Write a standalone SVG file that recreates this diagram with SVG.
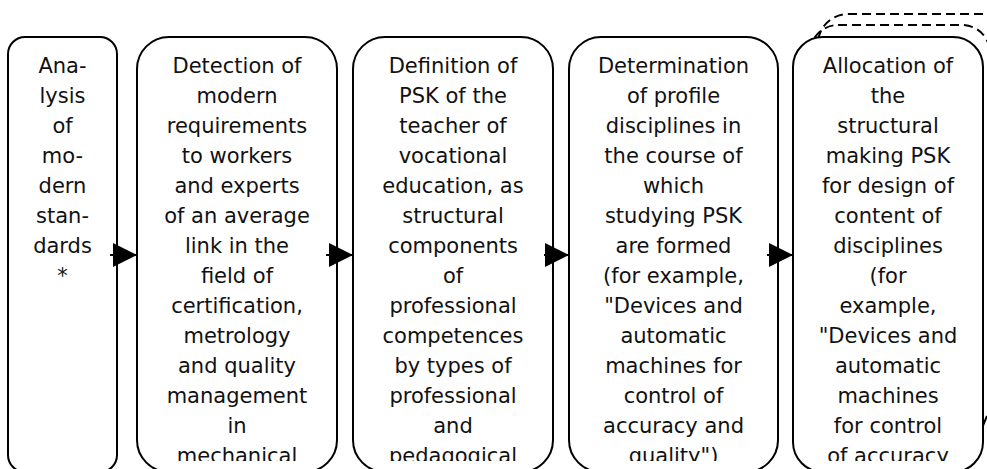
<svg xmlns="http://www.w3.org/2000/svg" width="987" height="469" viewBox="0 0 987 469">
<style>
.box{fill:#fff;stroke:#000;stroke-width:2}
.dash{fill:none;stroke:#000;stroke-width:2;stroke-dasharray:9 5}
.t{font-family:"DejaVu Sans",sans-serif;font-size:21px;fill:#111;text-anchor:middle}
.c{stroke:#000;stroke-width:2;fill:none}
</style>
<defs>
<clipPath id="clip"><rect x="0" y="0" width="987" height="461"/></clipPath>
<marker id="ah" markerUnits="userSpaceOnUse" markerWidth="24" markerHeight="24" viewBox="0 0 24 24" refX="24" refY="12" orient="auto"><path d="M0 0L24 12L0 24Z" fill="#000"/></marker>
</defs>
<rect width="987" height="469" fill="#fff"/>
<g id="back-stack">
<rect class="dash" x="818" y="14" width="200" height="470" rx="30"/>
<rect class="dash" x="810" y="25" width="180" height="460" rx="28"/>
<path class="c" d="M982 428L987 416"/>
</g>
<g id="n1">
<rect class="box" x="8" y="37" width="109" height="435" rx="17"/>
<g class="t" clip-path="url(#clip)">
<text x="62.5" y="73">Ana-</text><text x="62.5" y="103">lysis</text><text x="62.5" y="133">of</text><text x="62.5" y="163">mo-</text><text x="62.5" y="193">dern</text><text x="62.5" y="223">stan-</text><text x="62.5" y="253">dards</text><text x="62.5" y="283">*</text>
</g>
</g>
<g id="n2">
<rect class="box" x="137" y="37" width="200" height="435" rx="32"/>
<g class="t" clip-path="url(#clip)">
<text x="237" y="73">Detection of</text><text x="237" y="103">modern</text><text x="237" y="133">requirements</text><text x="237" y="163">to workers</text><text x="237" y="193">and experts</text><text x="237" y="223">of an average</text><text x="237" y="253">link in the</text><text x="237" y="283">field of</text><text x="237" y="313">certification,</text><text x="237" y="343">metrology</text><text x="237" y="373">and quality</text><text x="237" y="403">management</text><text x="237" y="433">in</text><text x="237" y="463">mechanical</text>
</g>
</g>
<g id="n3">
<rect class="box" x="353" y="37" width="200" height="435" rx="32"/>
<g class="t" clip-path="url(#clip)">
<text x="453" y="73">Definition of</text><text x="453" y="103">PSK of the</text><text x="453" y="133">teacher of</text><text x="453" y="163">vocational</text><text x="453" y="193">education, as</text><text x="453" y="223">structural</text><text x="453" y="253">components</text><text x="453" y="283">of</text><text x="453" y="313">professional</text><text x="453" y="343">competences</text><text x="453" y="373">by types of</text><text x="453" y="403">professional</text><text x="453" y="433">and</text><text x="453" y="463">pedagogical</text>
</g>
</g>
<g id="n4">
<rect class="box" x="569" y="37" width="209" height="435" rx="32"/>
<g class="t" clip-path="url(#clip)">
<text x="673.5" y="73">Determination</text><text x="673.5" y="103">of profile</text><text x="673.5" y="133">disciplines in</text><text x="673.5" y="163">the course of</text><text x="673.5" y="193">which</text><text x="673.5" y="223">studying PSK</text><text x="673.5" y="253">are formed</text><text x="673.5" y="283">(for example,</text><text x="673.5" y="313">"Devices and</text><text x="673.5" y="343">automatic</text><text x="673.5" y="373">machines for</text><text x="673.5" y="403">control of</text><text x="673.5" y="433">accuracy and</text><text x="673.5" y="463">quality")</text>
</g>
</g>
<g id="n5">
<rect class="box" x="793" y="37" width="190" height="435" rx="30"/>
<g class="t" clip-path="url(#clip)">
<text x="888" y="73">Allocation of</text><text x="888" y="103">the</text><text x="888" y="133">structural</text><text x="888" y="163">making PSK</text><text x="888" y="193">for design of</text><text x="888" y="223">content of</text><text x="888" y="253">disciplines</text><text x="888" y="283">(for</text><text x="888" y="313">example,</text><text x="888" y="343">"Devices and</text><text x="888" y="373">automatic</text><text x="888" y="403">machines</text><text x="888" y="433">for control</text><text x="888" y="463">of accuracy</text>
</g>
</g>
<g id="connectors">
<path class="c" d="M110 255H137" marker-end="url(#ah)"/>
<path class="c" d="M326 255H353" marker-end="url(#ah)"/>
<path class="c" d="M544 255H569" marker-end="url(#ah)"/>
<path class="c" d="M767 255H793" marker-end="url(#ah)"/>
</g>
</svg>
